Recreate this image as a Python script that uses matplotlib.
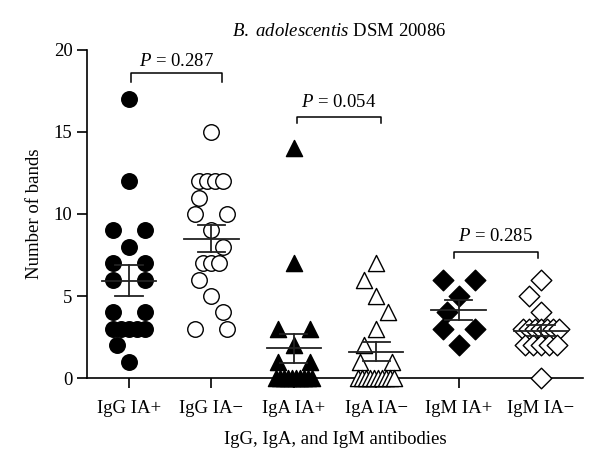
import numpy as np
import matplotlib
matplotlib.use("Agg")
import matplotlib.pyplot as plt

plt.rcParams["font.family"] = ["Liberation Serif", "DejaVu Serif"]
plt.rcParams["mathtext.fontset"] = "custom"
plt.rcParams["mathtext.rm"] = "Liberation Serif"
plt.rcParams["mathtext.it"] = "Liberation Serif:italic"

# Data
groups = ["IgG IA+", "IgG IA\u2212", "IgA IA+", "IgA IA\u2212", "IgM IA+", "IgM IA\u2212"]
igg_pos = [17, 12, 9, 9, 8, 7, 7, 6, 6, 4, 4, 3, 3, 3, 3, 3, 2, 1]
igg_neg = [15, 12, 12, 12, 12, 11, 10, 10, 9, 8, 7, 7, 7, 6, 5, 4, 3, 3]
iga_pos = [14, 7, 3, 3, 2, 1, 1, 0, 0, 0, 0, 0, 0, 0, 0, 0, 0]
iga_neg = [7, 6, 5, 4, 3, 2, 1, 1, 0, 0, 0, 0, 0, 0, 0, 0, 0, 0]
igm_pos = [6, 6, 5, 4, 3, 3, 2]
igm_neg = [6, 5, 4, 3, 3, 3, 3, 3, 3, 3, 2, 2, 2, 2, 2, 0]
p_values = ["0.287", "0.054", "0.285"]

series = [igg_pos, igg_neg, iga_pos, iga_neg, igm_pos, igm_neg]
markers = ["o", "o", "^", "^", "D", "D"]
filled = [True, False, True, False, True, False]
sizes = [125, 125, 135, 135, 110, 110]

PX = 82.4  # pixels per category
FS = 13.5


def swarm(vals):
    # spread equal values sideways, like a dot plot
    vals = np.asarray(vals)
    x = np.zeros(len(vals))
    prev = None
    side = 1
    for v in sorted(np.unique(vals), reverse=True):
        idx = np.where(vals == v)[0]
        n = len(idx)
        if n == 1:
            offs = np.array([0.0])
            if prev is not None and prev[0] == v + 1 and np.min(np.abs(prev[1])) < 10:
                side = -side
                offs = np.array([12.0 * side])
        elif n == 2:
            offs = np.array([-16.0, 16.0])
        else:
            span = min(36, 8 * (n - 1))
            offs = np.linspace(-span / 2, span / 2, n)
        x[idx] = offs / PX
        prev = (v, offs)
    return x


fig = plt.figure(figsize=(6, 4.7), dpi=100)
ax = fig.add_axes([0.145, 0.1957, 0.8267, 0.698])

for i, vals in enumerate(series):
    vals = np.asarray(vals, dtype=float)
    xs = i + swarm(vals)
    fc = "black" if filled[i] else "white"
    ax.scatter(xs, vals, s=sizes[i], marker=markers[i], facecolor=fc,
               edgecolor="black", linewidth=1.0, zorder=3, clip_on=False)
    m = vals.mean()
    sem = vals.std(ddof=1) / np.sqrt(len(vals))
    ax.plot([i - 0.33, i + 0.33], [m, m], color="#222222", lw=1.3, zorder=4)
    ax.plot([i - 0.165, i + 0.165], [m + sem, m + sem], color="#222222", lw=1.3, zorder=4)
    ax.plot([i - 0.165, i + 0.165], [m - sem, m - sem], color="#222222", lw=1.3, zorder=4)
    ax.plot([i, i], [m - sem, m + sem], color="#222222", lw=1.3, zorder=4)

# significance brackets
brackets = [(0.03, 1.13, 18.07, 18.6, 19.3),
            (2.04, 3.06, 15.55, 15.93, 16.8),
            (3.94, 4.96, 7.3, 7.7, 8.6)]
for (x1, x2, y0, y1, yt), p in zip(brackets, p_values):
    ax.plot([x1, x1, x2, x2], [y0, y1, y1, y0], color="black", lw=1.1, clip_on=False)
    ax.text((x1 + x2) / 2, yt, r"$P$ = " + p, ha="center", va="center", fontsize=FS)

ax.set_xlim(-0.51, 5.51)
ax.set_ylim(0, 20)
ax.set_yticks([0, 5, 10, 15, 20])
ax.set_xticks(range(len(groups)))
ax.set_xticklabels(groups)
ax.spines["top"].set_visible(False)
ax.spines["right"].set_visible(False)
for s in ["left", "bottom"]:
    ax.spines[s].set_linewidth(1.2)
ax.tick_params(axis="both", labelsize=FS, width=1.2, length=7, direction="out")
ax.tick_params(axis="x", pad=9)
ax.set_ylabel("Number of bands", fontsize=FS, labelpad=8)
ax.set_xlabel("IgG, IgA, and IgM antibodies", fontsize=FS, labelpad=10)
fig.text(0.565, 0.932, r"$B.\ adolescentis$ DSM 20086", ha="center", va="center", fontsize=FS)

fig.savefig("out.png", dpi=100)
